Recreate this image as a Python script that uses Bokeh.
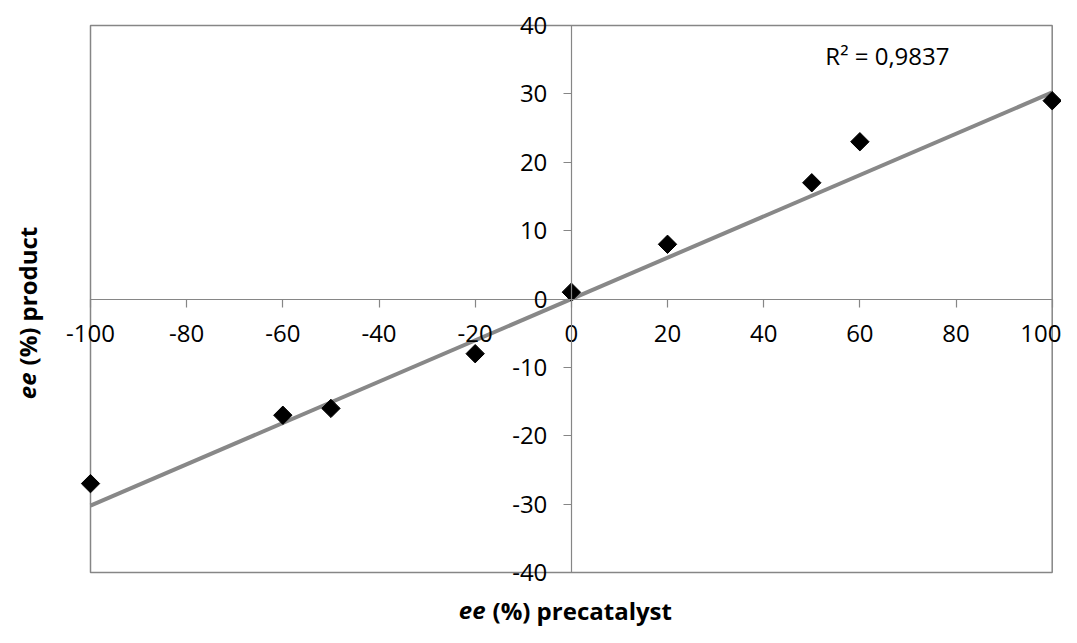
import numpy as np
from bokeh.plotting import figure
from bokeh.models import LinearAxis, FixedTicker, Label, Range1d, ColumnDataSource
from bokeh.embed import file_html
from bokeh.resources import INLINE

# ---- data ----
precat_ee = [-100, -60, -50, -20, 0, 20, 50, 60, 100]
product_ee = [-27, -17, -16, -8, 1, 8, 17, 23, 29]
x_ticks = [-100, -80, -60, -40, -20, 0, 20, 40, 60, 80, 100]
y_ticks = [-40, -30, -20, -10, 0, 10, 20, 30, 40]
r2_text = "R² = 0,9837"
x_title = ["ee", "(%) precatalyst"]
y_title = ["ee", "(%) product"]

GRAY = "#868686"
FONT = "Open Sans"
W, H = 1061, 627
SPACE = 7  # px gap between italic "ee" and the rest of a title

# plot area in canvas pixels (layout)
PX_L, PX_R, PX_T, PX_B = 90.0, 1051.7, 25.0, 572.0
sx = (PX_R - PX_L) / (x_ticks[-1] - x_ticks[0])
sy = (PX_B - PX_T) / (y_ticks[-1] - y_ticks[0])
x0 = x_ticks[0] - PX_L / sx
x1 = x0 + W / sx
y1 = y_ticks[-1] + PX_T / sy
y0 = y1 - H / sy

def cx(px):
    return x0 + px / sx

def cy(py):
    return y1 - py / sy

p = figure(width=W, height=H, output_backend="svg", toolbar_location=None,
           x_axis_location=None, y_axis_location=None,
           x_range=Range1d(x0, x1), y_range=Range1d(y0, y1),
           min_border=0)
p.grid.visible = False
p.outline_line_color = None
p.background_fill_color = "white"
p.border_fill_color = "white"

# plot-area border
p.quad(left=[x_ticks[0]], right=[x_ticks[-1]], bottom=[y_ticks[0]], top=[y_ticks[-1]],
       fill_color=None, line_color=GRAY, line_width=1.5)

def style_axis(ax, ticks):
    ax.axis_line_color = GRAY
    ax.axis_line_width = 1.2
    ax.major_tick_line_color = GRAY
    ax.major_tick_line_width = 1.2
    ax.major_tick_out = 8
    ax.major_tick_in = 0
    ax.minor_tick_line_color = None
    ax.major_label_text_font = FONT
    ax.major_label_text_font_size = "24px"
    ax.major_label_text_color = "black"
    ax.major_label_overrides = {t: str(t) for t in ticks}

xa = LinearAxis(fixed_location=0, ticker=FixedTicker(ticks=x_ticks),
                bounds=(x_ticks[0], x_ticks[-1]))
style_axis(xa, x_ticks)
xa.major_label_standoff = 18
p.add_layout(xa, "below")

ya = LinearAxis(fixed_location=0, ticker=FixedTicker(ticks=y_ticks),
                bounds=(y_ticks[0], y_ticks[-1]))
style_axis(ya, y_ticks)
ya.major_label_standoff = 16
p.add_layout(ya, "left")

# trendline through origin (Excel, intercept = 0)
xs = np.array(precat_ee, dtype=float)
ys = np.array(product_ee, dtype=float)
slope = (xs * ys).sum() / (xs * xs).sum()
lx = [xs.min(), xs.max()]
p.line(lx, [slope * v for v in lx], line_color="#888888", line_width=4)

src = ColumnDataSource(dict(x=precat_ee, y=product_ee))
p.scatter("x", "y", source=src, marker="square", size=13, angle=np.pi / 4,
          fill_color="black", line_color="black")

p.add_layout(Label(x=cx(949), y=cy(55), text=r2_text, text_align="right",
                   text_baseline="alphabetic", text_font=FONT,
                   text_font_size="24px", text_color="black"))

# x title
TB = 610
p.add_layout(Label(x=cx(485), y=cy(TB), text=x_title[0], text_align="right",
                   text_baseline="alphabetic", text_font=FONT, text_color="black",
                   text_font_size="24px", text_font_style="bold italic"))
p.add_layout(Label(x=cx(485 + SPACE), y=cy(TB), text=x_title[1], text_align="left",
                   text_baseline="alphabetic", text_font=FONT, text_color="black",
                   text_font_size="24px", text_font_style="bold"))
# y title
p.add_layout(Label(x=cx(27), y=cy(372), text=y_title[0], text_align="right",
                   text_baseline="middle", angle=np.pi / 2, text_font=FONT,
                   text_color="black",
                   text_font_size="24px", text_font_style="bold italic"))
p.add_layout(Label(x=cx(27), y=cy(372 - SPACE), text=y_title[1], text_align="left",
                   text_baseline="middle", angle=np.pi / 2, text_font=FONT,
                   text_color="black",
                   text_font_size="24px", text_font_style="bold"))

open("out.html", "w").write(file_html(p, INLINE))
